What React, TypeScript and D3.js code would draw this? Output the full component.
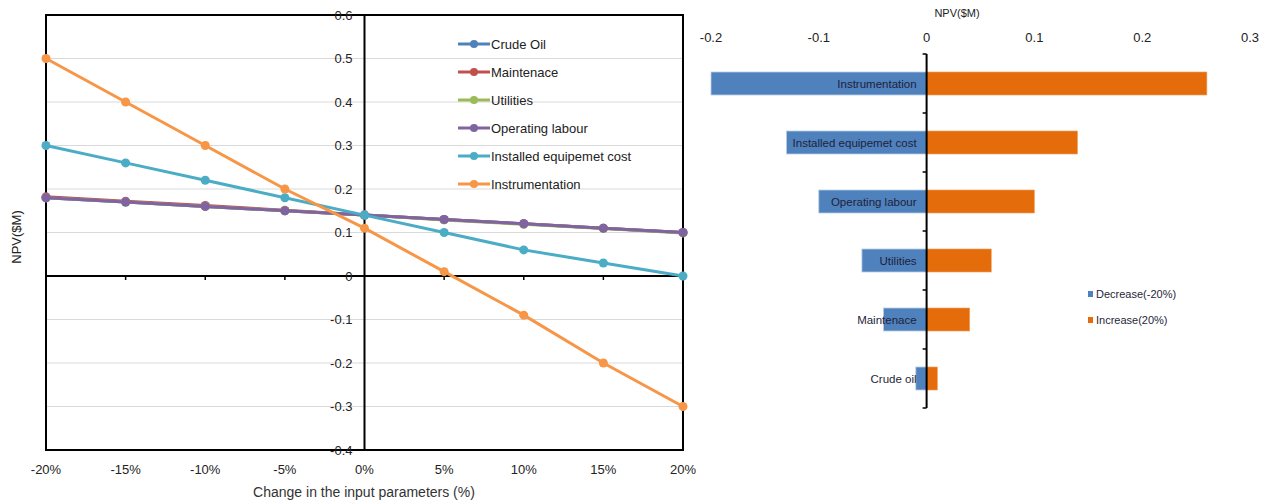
import React from "react";
import * as d3 from "d3";

const W = 1268;
const H = 501;
const FONT = "'Liberation Sans', Arial, sans-serif";

// left chart data
const changes = [-20, -15, -10, -5, 0, 5, 10, 15, 20];
const seriesNames = ["Crude Oil", "Maintenace", "Utilities", "Operating labour", "Installed equipemet cost", "Instrumentation"];
const seriesColors = ["#4F81BD", "#C0504D", "#9BBB59", "#8064A2", "#4BACC6", "#F79646"];
const crudeOil = [0.18, 0.17, 0.16, 0.15, 0.14, 0.13, 0.12, 0.11, 0.1];
const maintenace = [0.182, 0.172, 0.162, 0.151, 0.14, 0.13, 0.12, 0.11, 0.1];
const utilities = [0.18, 0.17, 0.16, 0.15, 0.14, 0.129, 0.119, 0.109, 0.099];
const operatingLabour = [0.18, 0.17, 0.16, 0.15, 0.14, 0.13, 0.12, 0.11, 0.1];
const installedCost = [0.3, 0.26, 0.22, 0.18, 0.14, 0.1, 0.06, 0.03, 0.0];
const instrumentation = [0.5, 0.4, 0.3, 0.2, 0.11, 0.01, -0.09, -0.2, -0.3];
const lineSeries = [crudeOil, maintenace, utilities, operatingLabour, installedCost, instrumentation];
const yTicks = [0.6, 0.5, 0.4, 0.3, 0.2, 0.1, 0, -0.1, -0.2, -0.3, -0.4];

// tornado data
const tornadoCats = ["Instrumentation", "Installed equipemet cost", "Operating labour", "Utilities", "Maintenace", "Crude oil"];
const decrease = [-0.2, -0.13, -0.1, -0.06, -0.04, -0.01];
const increase = [0.26, 0.14, 0.1, 0.06, 0.04, 0.01];
const tornadoTicks = [-0.2, -0.1, 0, 0.1, 0.2, 0.3];

const LineChart = () => {
  const x = d3.scaleLinear().domain([-20, 20]).range([46, 683]);
  const y = d3.scaleLinear().domain([-0.4, 0.6]).range([450, 15]);
  const line = d3
    .line<number>()
    .x((_, i) => x(changes[i]))
    .y((d) => y(d));

  return (
    <g fontFamily={FONT}>
      {yTicks.map((t) => (
        <line key={t} x1={46} x2={683} y1={y(t)} y2={y(t)} stroke="#d9d9d9" strokeWidth={1.2} />
      ))}
      <rect x={46} y={15} width={637} height={435} fill="none" stroke="#000" strokeWidth={2} />
      <line x1={46} x2={683} y1={y(0)} y2={y(0)} stroke="#000" strokeWidth={2} />
      <line x1={x(0)} x2={x(0)} y1={15} y2={450} stroke="#000" strokeWidth={2} />
      {changes
        .filter((c) => c !== 0 && Math.abs(c) !== 20)
        .map((c) => (
          <line key={c} x1={x(c)} x2={x(c)} y1={y(0)} y2={y(0) + 4} stroke="#000" strokeWidth={1.5} />
        ))}
      {yTicks.map((t) => (
        <text key={t} x={x(0) - 12} y={y(t)} dy="0.35em" textAnchor="end" fontSize={13} fill="#222">
          {t === 0 ? "0" : t.toFixed(1)}
        </text>
      ))}
      {changes.map((c) => (
        <text key={c} x={x(c)} y={474} textAnchor="middle" fontSize={13} fill="#222">
          {c + "%"}
        </text>
      ))}
      {lineSeries.map((s, i) => (
        <g key={i}>
          <path d={line(s) || ""} fill="none" stroke={seriesColors[i]} strokeWidth={3} />
          {s.map((v, j) => (
            <circle key={j} cx={x(changes[j])} cy={y(v)} r={4.5} fill={seriesColors[i]} />
          ))}
        </g>
      ))}
      {seriesNames.map((n, i) => (
        <g key={n} transform={`translate(458, ${44 + i * 28})`}>
          <line x1={0} x2={32} y1={0} y2={0} stroke={seriesColors[i]} strokeWidth={3} />
          <circle cx={16} cy={0} r={4} fill={seriesColors[i]} />
          <text x={33} y={0} dy="0.35em" fontSize={13} fill="#222">
            {n}
          </text>
        </g>
      ))}
      <text transform="translate(21, 237) rotate(-90)" textAnchor="middle" fontSize={13} fill="#222">
        NPV($M)
      </text>
      <text x={364} y={497} textAnchor="middle" fontSize={14} fill="#333">
        Change in the input parameters (%)
      </text>
    </g>
  );
};

const Tornado = () => {
  const x = d3.scaleLinear().domain([-0.2, 0.3]).range([711, 1250]);
  const band = d3.scaleBand<string>().domain(tornadoCats).range([54, 408]).paddingInner(0.61).paddingOuter(0.305);
  const bh = band.bandwidth();
  const step = band.step();

  return (
    <g fontFamily={FONT}>
      <text x={957} y={17} textAnchor="middle" fontSize={11} fill="#222">
        NPV($M)
      </text>
      {tornadoTicks.map((t) => (
        <text key={t} x={x(t)} y={42} textAnchor="middle" fontSize={13} fill="#222">
          {t === 0 ? "0" : t.toFixed(1)}
        </text>
      ))}
      {tornadoCats.map((c, i) => (
        <g key={c}>
          <rect x={x(decrease[i])} y={band(c)} width={x(0) - x(decrease[i])} height={bh} fill="#4F81BD" stroke="#b9cde5" strokeWidth={0.8} />
          <rect x={x(0)} y={band(c)} width={x(increase[i]) - x(0)} height={bh} fill="#E46C0A" stroke="#f0a060" strokeWidth={0.6} />
          <text x={x(0) - 10} y={(band(c) || 0) + bh / 2} dy="0.35em" textAnchor="end" fontSize={11.5} fill="#1f1f3a">
            {c}
          </text>
        </g>
      ))}
      <line x1={x(0)} x2={x(0)} y1={54} y2={408} stroke="#000" strokeWidth={2} />
      {d3.range(tornadoCats.length + 1).map((i) => (
        <line key={i} x1={x(0) - 4} x2={x(0)} y1={54 + i * step} y2={54 + i * step} stroke="#000" strokeWidth={1.5} />
      ))}
      <g transform="translate(1088, 294)">
        <rect x={0} y={-3} width={5} height={6} fill="#4F81BD" />
        <text x={8} y={0} dy="0.35em" fontSize={11} fill="#1f1f3a">
          Decrease(-20%)
        </text>
      </g>
      <g transform="translate(1088, 320)">
        <rect x={0} y={-3} width={5} height={6} fill="#E46C0A" />
        <text x={8} y={0} dy="0.35em" fontSize={11} fill="#1f1f3a">
          Increase(20%)
        </text>
      </g>
    </g>
  );
};

const App = () => {
  return (
    <div style={{ position: "absolute", left: 0, top: 0 }}>
      <svg width={W} height={H} style={{ display: "block", background: "#fff" }}>
        <LineChart />
        <Tornado />
      </svg>
    </div>
  );
};

export default App;
